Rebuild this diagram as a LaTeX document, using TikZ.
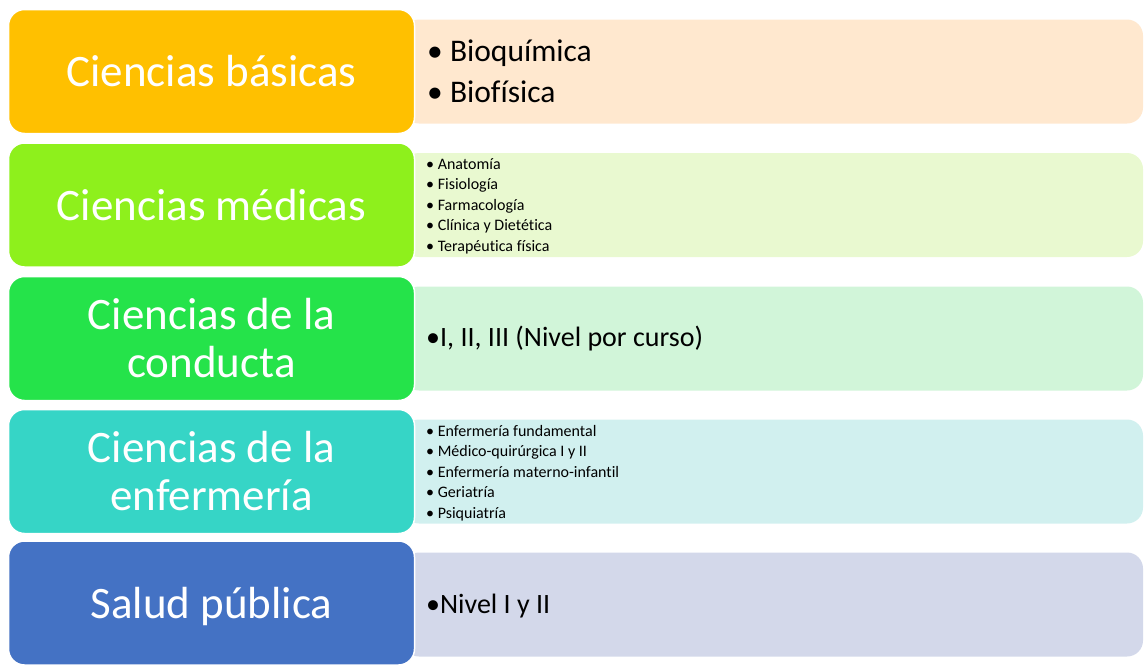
\documentclass[tikz,border=0pt]{standalone}
\usepackage{fontspec}
\setmainfont{Carlito}[Ligatures=CommonOff]
\definecolor{cA}{HTML}{FFC000}
\definecolor{cB}{HTML}{8EF01C}
\definecolor{cC}{HTML}{25E34A}
\definecolor{cD}{HTML}{36D5C6}
\definecolor{cE}{HTML}{4472C4}
\definecolor{rA}{HTML}{FFE8CF}
\definecolor{rB}{HTML}{E9F9D0}
\definecolor{rC}{HTML}{D1F5D9}
\definecolor{rD}{HTML}{D1F0EF}
\definecolor{rE}{HTML}{D3D8EA}
\tikzset{
  leftbox/.style={draw=white, line width=1.5pt, rounded corners=16pt, minimum width=406pt, minimum height=124pt, inner sep=0pt, align=center, text=white, font=\fontsize{45}{48}\selectfont},
  rightbox/.style={rounded corners=16pt, minimum width=740pt, minimum height=104pt, inner sep=0pt},
  bigtxt/.style={anchor=west, align=left, inner sep=0pt, font=\fontsize{31.5}{41}\selectfont},
  smalltxt/.style={anchor=west, align=left, inner sep=0pt, font=\fontsize{16}{20.5}\selectfont},
  midtxt/.style={anchor=west, align=left, inner sep=0pt, font=\fontsize{28}{32}\selectfont}
}
\begin{document}
\begin{tikzpicture}[x=1pt,y=-1pt]
\useasboundingbox (0,0) rectangle (1147,664);
% right boxes
\node[rightbox, fill=rA] (R1) at (773,71.5) {};
\node[rightbox, fill=rB] (R2) at (773,205) {};
\node[rightbox, fill=rC] (R3) at (773,338.5) {};
\node[rightbox, fill=rD] (R4) at (773,471.5) {};
\node[rightbox, fill=rE] (R5) at (773,604.5) {};
% left boxes
\node[leftbox, fill=cA] (L1) at (211.5,71.5) {Ciencias básicas};
\node[leftbox, fill=cB] (L2) at (211.5,205) {Ciencias médicas};
\node[leftbox, fill=cC] (L3) at (211.5,338.5) {Ciencias de la\\conducta};
\node[leftbox, fill=cD] (L4) at (211.5,471.5) {Ciencias de la\\enfermería};
\node[leftbox, fill=cE] (L5) at (211.5,603) {};
\node[text=white, font=\fontsize{45}{48}\selectfont, inner sep=0pt] (L5t) at (211.5,606) {Salud pública};
% texts
\node[bigtxt] (T1) at (427,71) {• Bioquímica\\• Biofísica};
\node[smalltxt] (T2) at (426,206) {• Anatomía\\• Fisiología\\• Farmacología\\• Clínica y Dietética\\• Terapéutica física};
\node[midtxt] (T3) at (426,339) {•I, II, III (Nivel por curso)};
\node[smalltxt] (T4) at (426,473) {• Enfermería fundamental\\• Médico-quirúrgica I y II\\• Enfermería materno-infantil\\• Geriatría\\• Psiquiatría};
\node[midtxt] (T5) at (426,606) {•Nivel I y II};
\end{tikzpicture}
\end{document}
